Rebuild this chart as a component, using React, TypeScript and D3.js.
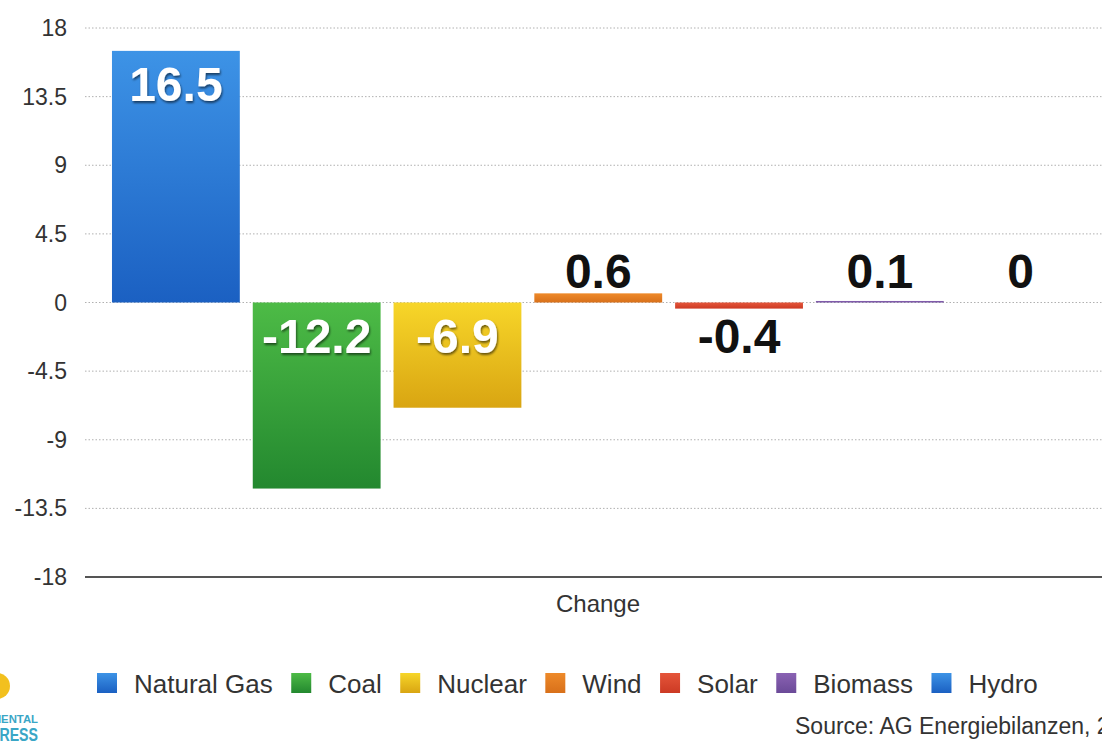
import React, { useEffect, useRef } from "react";
import * as d3 from "d3";

const categories = ["Natural Gas", "Coal", "Nuclear", "Wind", "Solar", "Biomass", "Hydro"];
const values = [16.5, -12.2, -6.9, 0.6, -0.4, 0.1, 0];
const yTicks = [-18, -13.5, -9, -4.5, 0, 4.5, 9, 13.5, 18];
const topColors = ["#3d93e6", "#4dbb46", "#f7d629", "#ee8a2a", "#e5553a", "#8a62b3", "#3d93e6"];
const bottomColors = ["#1b60c2", "#23882f", "#d9a512", "#d8701a", "#cc3a24", "#6b4a98", "#1b60c2"];
const axisTitle = "Change";
const sourceText = "Source: AG Energiebilanzen, 2015";

const FONT = "'Liberation Sans', Arial, Helvetica, sans-serif";

export default function App() {
  const ref = useRef<SVGSVGElement>(null);

  useEffect(() => {
    const svg = d3.select(ref.current);
    svg.selectAll("*").remove();

    const width = 1102, height = 742;
    const left = 85, right = 1112, top = 28, bottom = 577;

    const y = d3.scaleLinear().domain([-18, 18]).range([bottom, top]);
    const x = d3.scaleBand<string>()
      .domain(categories)
      .range([105.5, 1091])
      .paddingInner(0.092)
      .paddingOuter(0.046);

    svg.append("rect").attr("width", width).attr("height", height).attr("fill", "#fff");

    const defs = svg.append("defs");
    categories.forEach((c, i) => {
      const g = defs.append("linearGradient")
        .attr("id", "grad" + i)
        .attr("x1", 0).attr("y1", 0).attr("x2", 0).attr("y2", 1);
      g.append("stop").attr("offset", "0%").attr("stop-color", topColors[i]);
      g.append("stop").attr("offset", "100%").attr("stop-color", bottomColors[i]);
    });
    const shadow = defs.append("filter").attr("id", "shadow")
      .attr("x", "-20%").attr("y", "-20%").attr("width", "140%").attr("height", "150%");
    shadow.append("feDropShadow")
      .attr("dx", 1).attr("dy", 2).attr("stdDeviation", 1.2)
      .attr("flood-color", "#000").attr("flood-opacity", 0.55);

    // grid lines
    svg.append("g")
      .selectAll("line")
      .data(yTicks.filter(t => t !== -18))
      .enter()
      .append("line")
      .attr("x1", left).attr("x2", right)
      .attr("y1", d => y(d)).attr("y2", d => y(d))
      .attr("stroke", "#b0b0b0")
      .attr("stroke-width", 1)
      .attr("stroke-dasharray", "1.5,2");

    // y tick labels
    svg.append("g")
      .selectAll("text")
      .data(yTicks)
      .enter()
      .append("text")
      .attr("x", 67)
      .attr("y", d => y(d) + 8)
      .attr("text-anchor", "end")
      .attr("font-family", FONT)
      .attr("font-size", 23)
      .attr("fill", "#333")
      .text(d => String(d));

    // bars
    svg.append("g")
      .selectAll("rect")
      .data(values)
      .enter()
      .append("rect")
      .attr("x", (d, i) => x(categories[i])!)
      .attr("width", x.bandwidth())
      .attr("y", d => y(Math.max(d, 0)))
      .attr("height", d => Math.abs(y(d) - y(0)))
      .attr("fill", (d, i) => `url(#grad${i})`);

    // axis line
    svg.append("line")
      .attr("x1", left).attr("x2", right)
      .attr("y1", y(-18)).attr("y2", y(-18))
      .attr("stroke", "#555").attr("stroke-width", 2);

    // value labels
    svg.append("g")
      .selectAll("text")
      .data(values)
      .enter()
      .append("text")
      .attr("x", (d, i) => x(categories[i])! + x.bandwidth() / 2)
      .attr("y", d => {
        if (d >= 3) return y(d) + 50;
        if (d < 0) return y(0) + 50;
        return y(0) - 15;
      })
      .attr("text-anchor", "middle")
      .attr("font-family", FONT)
      .attr("font-weight", "bold")
      .attr("font-size", 48)
      .attr("fill", d => (Math.abs(d) >= 3 ? "#fff" : "#111"))
      .attr("filter", d => (Math.abs(d) >= 3 ? "url(#shadow)" : null))
      .text(d => String(d));

    // axis title
    svg.append("text")
      .attr("x", 598)
      .attr("y", 612)
      .attr("text-anchor", "middle")
      .attr("font-family", FONT)
      .attr("font-size", 24)
      .attr("fill", "#333")
      .text(axisTitle);

    // legend
    const legend = svg.append("g");
    let lx = 97;
    categories.forEach((c, i) => {
      legend.append("rect")
        .attr("x", lx).attr("y", 673)
        .attr("width", 20).attr("height", 20)
        .attr("fill", `url(#grad${i})`);
      const t = legend.append("text")
        .attr("x", lx + 37).attr("y", 693)
        .attr("font-family", FONT)
        .attr("font-size", 26)
        .attr("fill", "#333")
        .text(c);
      const w = (t.node() as SVGTextElement).getComputedTextLength();
      lx = lx + 37 + w + 18.5;
    });

    // source
    svg.append("text")
      .attr("x", 795).attr("y", 734)
      .attr("font-family", FONT)
      .attr("font-size", 23)
      .attr("fill", "#333")
      .text(sourceText);

    // logo fragment
    svg.append("circle")
      .attr("cx", -3).attr("cy", 686).attr("r", 13)
      .attr("fill", "#f2c01e");
    svg.append("text")
      .attr("x", -60).attr("y", 723)
      .attr("textLength", 98)
      .attr("lengthAdjust", "spacingAndGlyphs")
      .attr("font-family", FONT)
      .attr("font-weight", "bold")
      .attr("font-size", 10)
      .attr("fill", "#3aa6c6")
      .text("ENVIRONMENTAL");
    svg.append("text")
      .attr("x", -10).attr("y", 741)
      .attr("textLength", 48)
      .attr("lengthAdjust", "spacingAndGlyphs")
      .attr("font-family", FONT)
      .attr("font-weight", "bold")
      .attr("font-size", 19)
      .attr("fill", "#3aa6c6")
      .text("PRESS");
  }, []);

  return (
    <svg
      ref={ref}
      width={1102}
      height={742}
      style={{ position: "absolute", left: 0, top: 0, display: "block" }}
    />
  );
}
